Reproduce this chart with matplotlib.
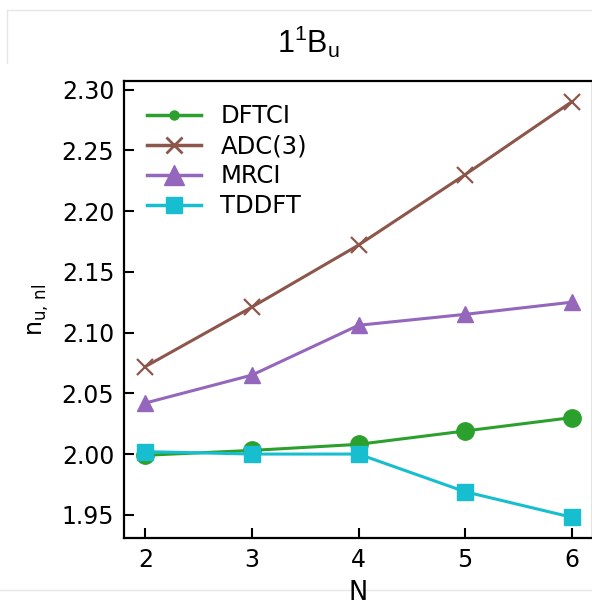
import numpy as np
import matplotlib.pyplot as plt
from matplotlib.lines import Line2D

# values
N = [2, 3, 4, 5, 6]
dftci = [1.999, 2.003, 2.008, 2.019, 2.030]
adc3 = [2.072, 2.121, 2.172, 2.230, 2.290]
mrci = [2.042, 2.065, 2.106, 2.115, 2.125]
tddft = [2.002, 2.000, 2.000, 1.969, 1.948]

plt.rcParams['font.family'] = ['DejaVu Sans']
plt.rcParams['mathtext.fontset'] = 'custom'
plt.rcParams['mathtext.rm'] = 'Liberation Sans'
plt.rcParams['mathtext.it'] = 'Liberation Sans:italic'

fig = plt.figure(figsize=(5.92, 6.02), dpi=100)
ax = fig.add_axes([124 / 592, 1 - 538 / 602, 469 / 592, 457 / 602])

ax.plot(N, dftci, color='tab:green', marker='o', markersize=12.5, lw=2.2)
ax.plot(N, adc3, color='tab:brown', marker='x', markersize=11.5, mew=1.6, lw=2.2)
ax.plot(N, mrci, color='tab:purple', marker='^', markersize=12, lw=2.2)
ax.plot(N, tddft, color='tab:cyan', marker='s', markersize=12, lw=2.2)

# legend handles (the circle is drawn smaller in the legend)
handles = [
    Line2D([], [], color='tab:green', marker='o', markersize=6.5, lw=2.5),
    Line2D([], [], color='tab:brown', marker='x', markersize=12, mew=2, lw=2.5),
    Line2D([], [], color='tab:purple', marker='^', markersize=14, lw=2.5),
    Line2D([], [], color='tab:cyan', marker='s', markersize=12, lw=2.5),
]
ax.legend(handles, ['DFTCI', 'ADC(3)', 'MRCI', 'TDDFT'], loc='upper left',
          frameon=False, fontsize=17.5, handlelength=2.2, labelspacing=0.25,
          borderaxespad=0.55, handletextpad=0.82)

ax.set_xticks(N)
ax.set_yticks([1.95, 2.00, 2.05, 2.10, 2.15, 2.20, 2.25, 2.30])
ax.tick_params(direction='in', length=7, width=1.5, labelsize=17, pad=7,
               top=False, right=False)
for s in ax.spines.values():
    s.set_linewidth(1.6)

ax.set_xlabel('N', fontsize=18.5, labelpad=6)
ax.set_ylabel(r'$\mathregular{n_{u,\,nl}}$', fontsize=17, labelpad=8,
              math_fontfamily='dejavusans')
fig.text(309 / 592, 1 - 42 / 602, r'$\mathregular{1^1B_u}$', ha='center',
         va='center', fontsize=22, family='Liberation Sans')

# faint frame lines from the source screenshot
fig.add_artist(Line2D([7 / 592, 1], [1 - 10 / 602] * 2, color='#e6e6e6', lw=1))
fig.add_artist(Line2D([7 / 592] * 2, [1 - 10 / 602, 1 - 63 / 602], color='#e6e6e6', lw=1))
fig.add_artist(Line2D([0, 1], [1 - 590 / 602] * 2, color='#e6e6e6', lw=1, zorder=0))

fig.savefig('out.png', dpi=100)
